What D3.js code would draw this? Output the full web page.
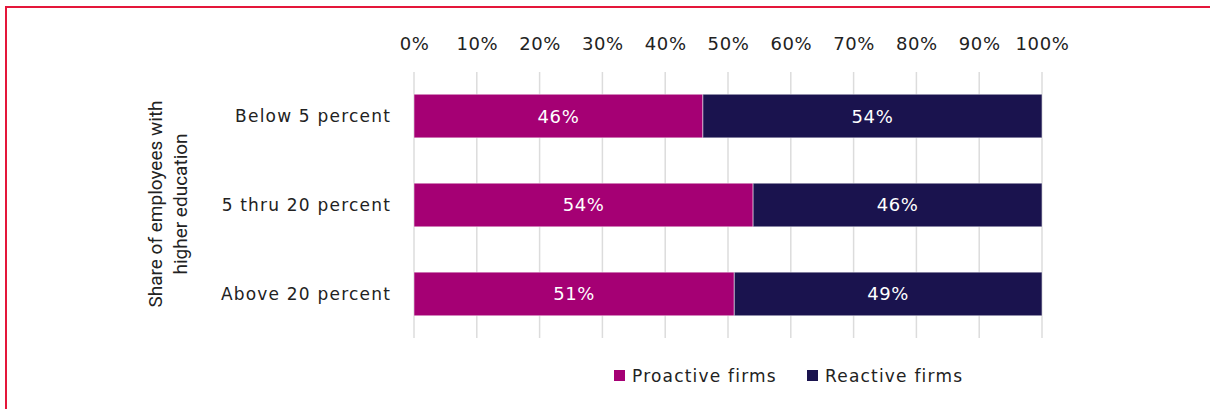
<!DOCTYPE html>
<html>
<head>
<meta charset="utf-8">
<script src="https://cdnjs.cloudflare.com/ajax/libs/d3/7.8.5/d3.min.js"></script>
<style>
  body { margin: 0; background: #fff; }
  svg { display: block; }
</style>
</head>
<body>
<div id="chart"></div>
<script>
// data
var categories = ["Below 5 percent", "5 thru 20 percent", "Above 20 percent"];
var proactive = [46, 54, 51];
var reactive = [54, 46, 49];
var seriesNames = ["Proactive firms", "Reactive firms"];
var seriesColors = ["#a50074", "#1a134e"];
var tickValues = [0, 10, 20, 30, 40, 50, 60, 70, 80, 90, 100];

var svgWidth = 1210, svgHeight = 409;
var margin = { top: 72, left: 414, right: 168, bottom: 71 };
var width = svgWidth - margin.left - margin.right;
var height = svgHeight - margin.top - margin.bottom;

var svg = d3.select("#chart").append("svg")
  .attr("width", svgWidth)
  .attr("height", svgHeight);

// red frame
svg.append("path")
  .attr("d", "M6,409 V7 H1210")
  .attr("fill", "none")
  .attr("stroke", "#e4163a")
  .attr("stroke-width", 2);

var chartGroup = svg.append("g")
  .attr("transform", `translate(${margin.left}, ${margin.top})`);

var xScale = d3.scaleLinear().domain([0, 100]).range([0, width]);
var yScale = d3.scaleBand().domain(categories).range([0, height]).paddingInner(0.51).paddingOuter(0.25);

// gridlines
chartGroup.selectAll(".grid")
  .data(tickValues)
  .enter()
  .append("line")
  .attr("x1", d => xScale(d))
  .attr("x2", d => xScale(d))
  .attr("y1", 0)
  .attr("y2", height)
  .attr("stroke", "#dcdcdc")
  .attr("stroke-width", 1.5);

var topAxis = d3.axisTop(xScale).tickValues(tickValues).tickFormat(d => d + "%").tickSize(0);
var axisG = chartGroup.append("g")
  .attr("transform", "translate(0,-19)")
  .call(topAxis);
axisG.select(".domain").remove();
axisG.selectAll("text")
  .attr("font-family", "DejaVu Sans, sans-serif")
  .attr("font-size", "18px")
  .attr("letter-spacing", "0.6px")
  .attr("fill", "#222");

var rows = categories.map(function (c, i) {
  return { cat: c, values: [proactive[i], reactive[i]] };
});

rows.forEach(function (row) {
  var x0 = 0;
  row.values.forEach(function (v, j) {
    chartGroup.append("rect")
      .attr("x", xScale(x0))
      .attr("y", yScale(row.cat))
      .attr("width", xScale(x0 + v) - xScale(x0))
      .attr("height", yScale.bandwidth())
      .attr("fill", seriesColors[j])
      .attr("stroke", "#ffffff")
      .attr("stroke-opacity", 0.5)
      .attr("stroke-width", 1);
    chartGroup.append("text")
      .attr("x", xScale(x0 + v / 2))
      .attr("y", yScale(row.cat) + yScale.bandwidth() / 2)
      .attr("dy", "0.36em")
      .attr("text-anchor", "middle")
      .attr("font-family", "DejaVu Sans, sans-serif")
      .attr("font-size", "18px")
      .attr("letter-spacing", "0.6px")
      .attr("fill", "#ffffff")
      .text(v + "%");
    x0 += v;
  });
});

// category labels
chartGroup.selectAll(".catLabel")
  .data(categories)
  .enter()
  .append("text")
  .attr("x", -23)
  .attr("y", d => yScale(d) + yScale.bandwidth() / 2)
  .attr("dy", "0.36em")
  .attr("text-anchor", "end")
  .attr("font-family", "DejaVu Sans, sans-serif")
  .attr("font-size", "17px")
  .attr("letter-spacing", "1.2px")
  .attr("fill", "#222")
  .text(d => d);

// y axis title
var yTitle = svg.append("text")
  .attr("transform", "translate(166, 204) rotate(-90)")
  .attr("text-anchor", "middle")
  .attr("font-family", "Liberation Sans Narrow, Roboto, sans-serif")
  .attr("font-size", "19px")
  .attr("fill", "#222");
yTitle.append("tspan").attr("x", 0).attr("dy", "-0.2em").text("Share of employees with");
yTitle.append("tspan").attr("x", 0).attr("dy", "1.3em").text("higher education");

// legend
var legendX = [614, 807];
var legend = svg.selectAll(".legend")
  .data(seriesNames)
  .enter()
  .append("g")
  .attr("transform", (d, i) => `translate(${legendX[i]}, 376)`);
legend.append("rect")
  .attr("x", 0)
  .attr("y", -6)
  .attr("width", 11)
  .attr("height", 11)
  .attr("fill", (d, i) => seriesColors[i]);
legend.append("text")
  .attr("x", 18)
  .attr("y", 0)
  .attr("dy", "0.36em")
  .attr("font-family", "DejaVu Sans, sans-serif")
  .attr("font-size", "17px")
  .attr("letter-spacing", "1.2px")
  .attr("fill", "#222")
  .text(d => d);
</script>
</body>
</html>
